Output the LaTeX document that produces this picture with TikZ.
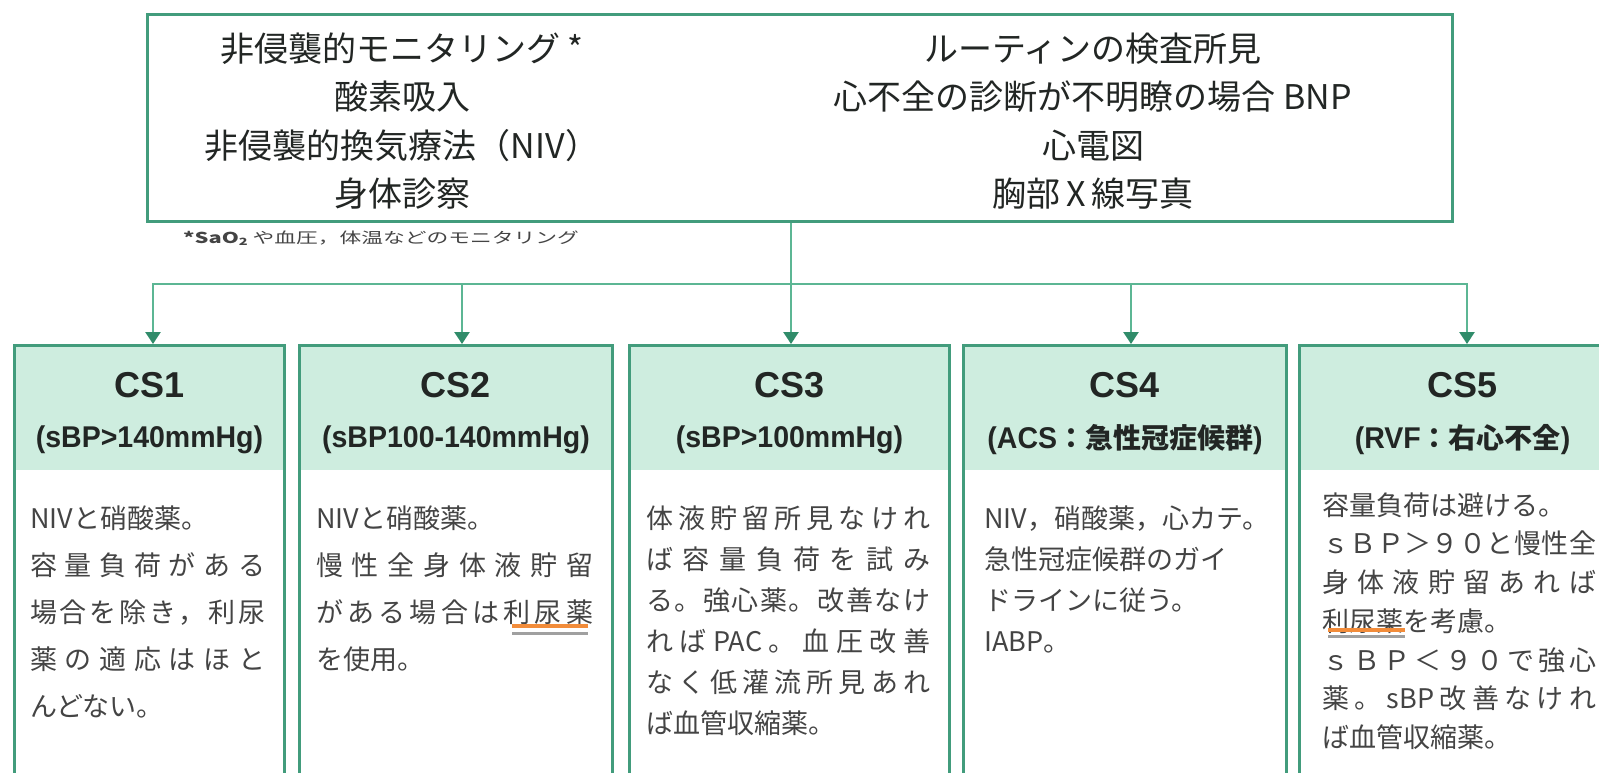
\documentclass[tikz,border=0pt]{standalone}
\usepackage{fontspec}
\usepackage{graphicx}
\usetikzlibrary{calc,arrows.meta}
\newfontfamily\jp{Noto Sans CJK JP}
\newfontfamily\arb[FakeStretch=0.95]{Liberation Sans}
\newfontfamily\ars{Liberation Sans}
\definecolor{bd}{RGB}{66,156,124}
\definecolor{cn}{RGB}{92,182,148}
\definecolor{ah}{RGB}{48,140,106}
\definecolor{hdr}{RGB}{206,237,223}
\definecolor{txt}{RGB}{34,38,36}
\definecolor{btxt}{RGB}{68,68,68}
\definecolor{org}{RGB}{242,140,58}
\definecolor{ugray}{RGB}{160,160,160}
\makeatletter
\newdimen\Jw
\def\J@go#1#2\J@stop{#1\if\relax\detokenize{#2}\relax\else\hfil\J@go#2\J@stop\fi}
\newcommand\J[1]{\leavevmode\hbox to \Jw{\J@go#1\J@stop}}
\makeatother
\newcommand\hj[1]{{\jp\bfseries\fontsize{28}{28}\selectfont #1}}
\begin{document}
\begin{tikzpicture}[x=1pt,y=-1pt,
  topbox/.style={draw=bd, line width=3pt, inner sep=0pt},
  csbox/.style={draw=bd, line width=3pt, inner sep=0pt, anchor=north west, minimum height=470pt,
    path picture={\fill[hdr] (path picture bounding box.north west) rectangle ([yshift=-124pt]path picture bounding box.north east);}},
  toptext/.style={font=\jp\fontsize{34}{48.5}\selectfont, text=txt, align=center, anchor=north, inner sep=0pt},
  fn/.style={font=\jp\fontsize{15}{15}\selectfont, text=btxt, anchor=west, inner sep=0pt},
  hA/.style={font=\ars\bfseries\fontsize{36}{36}\selectfont, text=txt, inner sep=0pt},
  hB/.style={font=\arb\bfseries\fontsize{30}{30}\selectfont, text=txt, inner sep=0pt},
  bodyt/.style={font=\jp\fontsize{27}{47}\selectfont, text=btxt, align=left, anchor=north west,
    inner sep=0pt, text width=#1, execute at begin node={\Jw=#1\relax\parindent=0pt\relax}},
  conn/.style={draw=cn, line width=2.5pt},
  arr/.style={conn, -{Triangle[width=15pt,length=12pt,color=ah]}},
]
\useasboundingbox (0,0) rectangle (1599,772);
\clip (0,0) rectangle (1599,772);
\fill[white] (0,0) rectangle (1599,772);

% top box
\node[topbox, minimum width=1305pt, minimum height=207pt, anchor=north west] (top) at (146,13) {};
\node[toptext] (tl) at (402,31) {\rule{0pt}{30pt}非侵襲的モニタリング *\\酸素吸入\\非侵襲的換気療法（NIV）\\身体診察};
\node[toptext] (tr) at (1093,31) {\rule{0pt}{30pt}ルーティンの検査所見\\心不全の診断が不明瞭の場合 BNP\\心電図\\胸部\,X\,線写真};
\node[fn] (note) at (183,238) {\scalebox{1.45}[1]{{\bfseries *SaO\raisebox{-2.5pt}{\fontsize{10}{10}\selectfont 2}} や血圧，体温などのモニタリング}};

% CS boxes
\node[csbox, minimum width=270pt] (cs1) at (13,344) {};
\node[csbox, minimum width=313pt] (cs2) at (298,344) {};
\node[csbox, minimum width=320pt] (cs3) at (628,344) {};
\node[csbox, minimum width=323pt] (cs4) at (962,344) {};
\node[csbox, minimum width=326pt] (cs5) at (1298,344) {};

% headers
\node[hA] (cs1a) at ($(cs1.north)+(0,41)$) {CS1};
\node[hB] (cs1b) at ($(cs1.north)+(0,96)$) {(sBP>140mmHg)};
\node[hA] (cs2a) at ($(cs2.north)+(0,41)$) {CS2};
\node[hB] (cs2b) at ($(cs2.north)+(0,96)$) {(sBP100-140mmHg)};
\node[hA] (cs3a) at ($(cs3.north)+(0,41)$) {CS3};
\node[hB] (cs3b) at ($(cs3.north)+(0,96)$) {(sBP>100mmHg)};
\node[hA] (cs4a) at ($(cs4.north)+(0,41)$) {CS4};
\node[hB] (cs4b) at ($(cs4.north)+(0,96)$) {(ACS\hj{：急性冠症候群})};
\node[hA] (cs5a) at ($(cs5.north)+(0,41)$) {CS5};
\node[hB] (cs5b) at ($(cs5.north)+(0,96)$) {(RVF\hj{：右心不全})};

% bodies
\node[bodyt=235pt] (cs1t) at (30,504) {\rule{0pt}{24pt}NIVと硝酸薬。\\\J{容量負荷がある}\\\J{場合を除き，利尿}\\\J{薬の適応はほと}\\んどない。};
\node[bodyt=277pt] (cs2t) at (316,504) {\rule{0pt}{24pt}NIVと硝酸薬。\\\J{慢性全身体液貯留}\\\J{がある場合は利尿薬}\\を使用。};
\node[bodyt=284pt, font=\jp\fontsize{27}{41}\selectfont] (cs3t) at (646,504) {\rule{0pt}{24pt}\J{体液貯留所見なけれ}\\\J{ば容量負荷を試み}\\\J{る。強心薬。改善なけ}\\\J{れば{PAC}。血圧改善}\\\J{なく低灌流所見あれ}\\ば血管収縮薬。};
\node[bodyt=280pt, font=\jp\fontsize{27}{41}\selectfont] (cs4t) at (984,504) {\rule{0pt}{24pt}NIV，硝酸薬，心カテ。\\急性冠症候群のガイ\\ドラインに従う。\\IABP。};
\node[bodyt=274pt, font=\jp\fontsize{27}{38.7}\selectfont] (cs5t) at (1322,491) {\rule{0pt}{24pt}容量負荷は避ける。\\\J{ｓＢＰ＞９０と慢性全}\\\J{身体液貯留あれば}\\利尿薬を考慮。\\\J{ｓＢＰ＜９０で強心}\\\J{薬。{sBP}改善なけれ}\\ば血管収縮薬。};

% underlines
\draw[ugray, line width=3pt] (512,633) -- (588,633);
\draw[org, line width=4pt] (512,626) -- (588,626);
\draw[ugray, line width=3pt] (1328,636) -- (1405,636);
\draw[org, line width=4pt] (1328,630) -- (1405,630);

% connectors
\coordinate (b1) at (153,284);
\coordinate (b2) at (462,284);
\coordinate (b3) at (791,284);
\coordinate (b4) at (1131,284);
\coordinate (b5) at (1467,284);
\draw[conn] (top.south -| b3) -- (b3);
\draw[arr] (b3) -| (b1 |- cs1.north);
\draw[arr] (b3) -| (b5 |- cs5.north);
\draw[arr] (b2) -- (b2 |- cs2.north);
\draw[arr] (b3) -- (b3 |- cs3.north);
\draw[arr] (b4) -- (b4 |- cs4.north);
\end{tikzpicture}
\end{document}
